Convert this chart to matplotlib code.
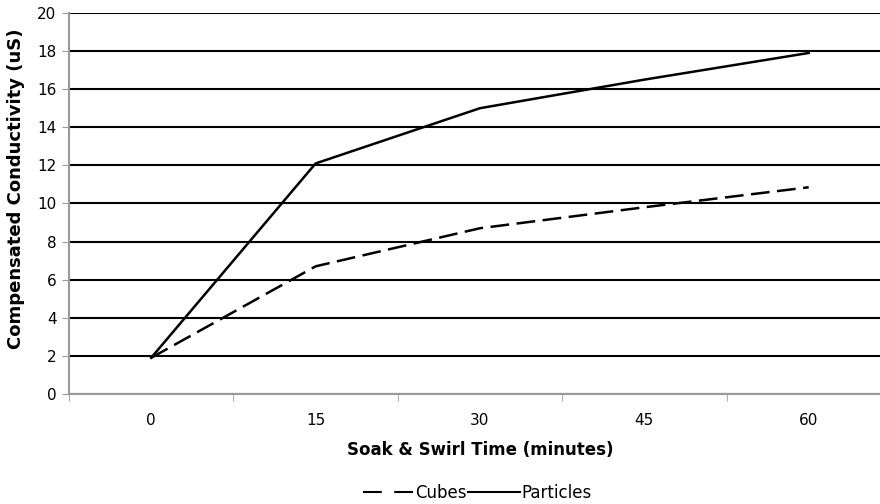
import numpy as np
import matplotlib
matplotlib.use("Agg")
from matplotlib import pyplot as plt

# data
times = ["0", "15", "30", "45", "60"]
cubes = [1.9, 6.7, 8.7, 9.8, 10.85]
particles = [1.9, 12.1, 15.0, 16.5, 17.9]
yticks = [0, 2, 4, 6, 8, 10, 12, 14, 16, 18, 20]

plt.rcParams['font.family'] = ['DejaVu Sans']

fig = plt.figure(figsize=(8.8, 5.04), dpi=100)
ax = fig.add_axes([0.0784, 0.2183, 0.934, 0.756])

x = np.arange(len(times))
ax.plot(x, cubes, color='black', lw=1.8, dashes=(7.5, 3), label='Cubes')
ax.plot(x, particles, color='black', lw=1.8, label='Particles')

ax.set_xlim(-0.5, len(times) - 0.5)
ax.set_ylim(0, 20)
ax.set_yticks(yticks)
ax.yaxis.grid(True, color='black', lw=1.5)
ax.set_axisbelow(True)

ax.set_xticks(x)
ax.set_xticklabels(times)
ax.set_xticks(np.arange(len(times) + 1) - 0.5, minor=True)
ax.tick_params(axis='x', which='major', length=0, pad=14, labelsize=11)
ax.tick_params(axis='x', which='minor', length=5, color='#999999', direction='out')
ax.tick_params(axis='y', length=5, color='#999999', labelsize=11, pad=4)

for s in ['top', 'right']:
    ax.spines[s].set_visible(False)
ax.spines['left'].set_color('#999999')
ax.spines['bottom'].set_color('#999999')
ax.spines['left'].set_linewidth(1.5)
ax.spines['bottom'].set_linewidth(1.5)

ax.set_xlabel('Soak & Swirl Time (minutes)', fontsize=12, fontweight='bold', labelpad=9)
ax.set_ylabel('Compensated Conductivity (uS)', fontsize=13, fontweight='bold')
ax.yaxis.set_label_coords(-0.053, 0.538)

leg = fig.legend(loc='lower center', bbox_to_anchor=(0.542, -0.026), ncol=2, frameon=False,
                 fontsize=12, handlelength=3.1, handletextpad=0.05, columnspacing=0.1)
for ln in leg.get_lines():
    ln.set_linewidth(1.5)
leg.get_lines()[0].set_dashes((9, 6))

fig.savefig('out.png', dpi=100)
